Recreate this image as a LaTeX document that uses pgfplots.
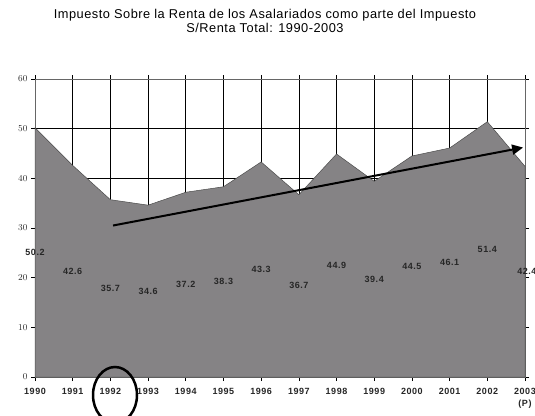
\documentclass[border=0pt]{standalone}
\usepackage{pgfplots}
\pgfplotsset{compat=1.18}
\usepackage{fontspec}
\setmainfont{Liberation Sans}
\newfontfamily\wide[LetterSpace=6]{Liberation Sans}
\newfontfamily\titlefont[LetterSpace=4]{Liberation Sans}
\usetikzlibrary{arrows.meta}
\definecolor{areagray}{HTML}{858385}
\begin{document}
\begin{tikzpicture}[x=1pt,y=1pt]
\useasboundingbox (0,0) rectangle (535,415);
\node[align=center,font=\titlefont\fontsize{12.8}{14.5}\selectfont] at (265,394)
  {Impuesto Sobre la Renta de los Asalariados como parte del Impuesto\\S/Renta Total: 1990-2003};
\begin{axis}[
  at={(35pt,38pt)}, anchor=south west,
  scale only axis, width=490pt, height=298pt,
  xmin=1990, xmax=2003, ymin=0, ymax=60,
  xtick={1990,...,2003},
  xticklabels={1990,1991,1992,1993,1994,1995,1996,1997,1998,1999,2000,2001,2002,{2003\\(P)}},
  ytick={0,10,...,60},
  grid=major, major grid style={black, line width=0.6pt},
  axis line style={gray!80!black, line width=0.6pt},
  tick align=outside, major tick length=4pt,
  tick style={black, line width=0.6pt},
  ticklabel style={font=\wide\fontsize{9}{12}\selectfont\bfseries, text=black!85},
  xticklabel style={align=center, yshift=-4pt},
  /pgf/number format/1000 sep={},
  clip=false,
]
\addplot[fill=areagray, draw=black!70, line width=0.5pt] coordinates {
  (1990,50.2) (1991,42.6) (1992,35.7) (1993,34.6) (1994,37.2) (1995,38.3)
  (1996,43.3) (1997,36.7) (1998,44.9) (1999,39.4) (2000,44.5) (2001,46.1)
  (2002,51.4) (2003,42.4)} \closedcycle;
\addplot[draw=none, mark=none, nodes near coords, point meta=explicit symbolic,
  nodes near coords align=center,
  every node near coord/.append style={font=\wide\fontsize{9}{10}\selectfont\bfseries, text=black!85}]
  coordinates {
  (1990,25.1)[50.2] (1991,21.3)[42.6] (1992,17.85)[35.7] (1993,17.3)[34.6]
  (1994,18.6)[37.2] (1995,19.15)[38.3] (1996,21.65)[43.3] (1997,18.35)[36.7]
  (1998,22.45)[44.9] (1999,19.7)[39.4] (2000,22.25)[44.5] (2001,23.05)[46.1]
  (2002,25.7)[51.4] (2003.05,21.2)[42.4]};
\addplot[black, line width=2pt, -{Triangle[length=11pt,width=10pt]}] coordinates {
  (1992.07,30.5) (2002.95,46.2)};
\end{axis}
\draw[black, line width=2.5pt] (115,20) ellipse [x radius=22, y radius=28];
\end{tikzpicture}
\end{document}
